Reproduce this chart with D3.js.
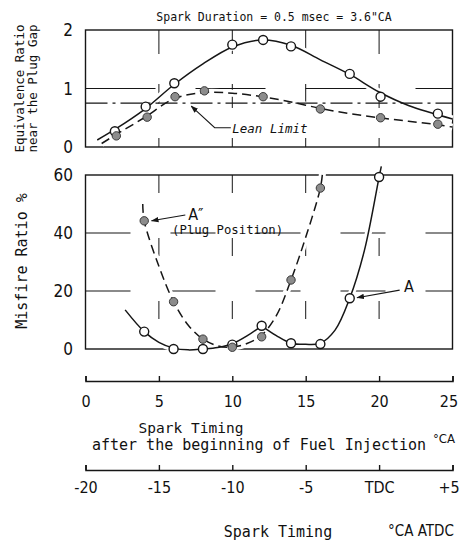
<!DOCTYPE html>
<html>
<head>
<meta charset="utf-8">
<script src="https://cdn.jsdelivr.net/npm/d3@7"></script>
<style>
body { margin: 0; background: #fff; }
svg { display: block; }
.mono { font-family: 'DejaVu Sans Mono', monospace; fill: #111; }
.narrow { font-family: 'Liberation Sans Narrow', 'DejaVu Sans Condensed', 'Liberation Sans', sans-serif; fill: #111; }
</style>
</head>
<body>
<script>
// tick values
const timingTicks = [0, 5, 10, 15, 20, 25];
const atdcTicks = [-20, -15, -10, -5, 0, 5];
const eqTicks = [0, 1, 2];
const misTicks = [0, 20, 40, 60];

// equivalence ratio near the plug gap (open = measured points, filled = lean limit data)
const eqOpen = [[2, 0.27], [4.1, 0.69], [6.05, 1.09], [10, 1.75], [12.1, 1.83], [14, 1.72], [18, 1.25], [20.1, 0.86], [24, 0.57]];
const eqFilled = [[2.1, 0.19], [4.2, 0.51], [6.1, 0.86], [8.1, 0.96], [12.1, 0.86], [16, 0.65], [20.1, 0.5], [24, 0.39]];
const eqOpenFit = [[0.8, 0.12], [2, 0.3], [4, 0.64], [6, 1.06], [8, 1.42], [10, 1.71], [12, 1.83], [14, 1.74], [16, 1.49], [18, 1.24], [20, 0.94], [22, 0.71], [25, 0.48]];
const eqFilledFit = [[1.1, 0.06], [2, 0.2], [4, 0.5], [6, 0.82], [8, 0.93], [10, 0.92], [12, 0.86], [14, 0.77], [16, 0.66], [18, 0.57], [20, 0.5], [22, 0.44], [24, 0.38], [25, 0.34]];
const leanLimit = 0.75;

// misfire ratio, A (open, solid) and A" (filled, dashed)
const misOpen = [[4, 6], [6, 0], [8, 0], [10, 1.5], [12, 8], [14, 2], [16, 1.7], [18, 17.5], [20, 59.3]];
const misFilled = [[4, 44.2], [6, 16.3], [8, 3.4], [10, 0.6], [12, 4.2], [14, 23.8], [16, 55.5]];
const misOpenFitA = [[2.7, 13.5], [4, 6], [5, 2.3], [6, 0.3], [7, -0.3], [8, 0], [9, 0.5], [10, 1.8], [11, 4.5], [12, 8]];
const misOpenFitB = [[12, 8], [13, 4.6], [14, 2], [15, 1.6], [16, 2], [17, 6.5], [18, 17.5], [19, 34], [20, 59.3], [20.15, 63]];
const misFilledFit = [[3.9, 50], [4, 44.2], [5, 28.5], [6, 16.3], [7, 8.2], [8, 3.4], [9, 1.1], [10, 0.6], [11, 1.9], [12, 4.8], [13, 11.5], [14, 23.8], [15, 38.5], [16, 55.5], [16.15, 61]];

const W = 462, H = 542;
const ink = "#161616";

const svg = d3.select("body").append("svg")
    .attr("width", W)
    .attr("height", H);

// scales
const x = d3.scaleLinear().domain([0, 25]).range([85.5, 452.5]);
const xAtdc = d3.scaleLinear().domain([-20, 5]).range([85.5, 452.5]);
const yTop = d3.scaleLinear().domain([0, 2]).range([147, 30]);
const yBot = d3.scaleLinear().domain([0, 60]).range([349, 175]);

// arrow head
svg.append("defs").append("marker")
    .attr("id", "arrow")
    .attr("viewBox", "0 0 10 10")
    .attr("refX", 9).attr("refY", 5)
    .attr("markerWidth", 7).attr("markerHeight", 7)
    .attr("orient", "auto")
    .append("path")
    .attr("d", "M0,1.5L10,5L0,8.5Z")
    .attr("fill", ink);

// broken grid lines
function grid(g, yScale, yVals, dash) {
    g.selectAll(".vg").data([5, 10, 15, 20]).enter().append("line")
        .attr("x1", d => x(d)).attr("x2", d => x(d))
        .attr("y1", yScale.range()[1]).attr("y2", yScale.range()[0])
        .attr("stroke", ink).attr("stroke-width", 1)
        .attr("stroke-dasharray", dash[0]);
    g.selectAll(".hg").data(yVals).enter().append("line")
        .attr("x1", x(0)).attr("x2", x(25))
        .attr("y1", d => yScale(d)).attr("y2", d => yScale(d))
        .attr("stroke", ink).attr("stroke-width", 1.1)
        .attr("stroke-dasharray", dash[1]);
}
grid(svg.append("g"), yTop, [1], ["24,30", "70,40"]);
grid(svg.append("g"), yBot, [20, 40], ["18,45", "45,40"]);

// frames
[yTop, yBot].forEach(ys => {
    svg.append("rect")
        .attr("x", x(0)).attr("y", ys.range()[1])
        .attr("width", x(25) - x(0)).attr("height", ys.range()[0] - ys.range()[1])
        .attr("fill", "none").attr("stroke", ink).attr("stroke-width", 1.4);
});

const lineTop = d3.line().x(d => x(d[0])).y(d => yTop(d[1])).curve(d3.curveCatmullRom.alpha(0.5));
const lineBot = d3.line().x(d => x(d[0])).y(d => yBot(d[1])).curve(d3.curveCatmullRom.alpha(0.5));

const curves = [
    { gen: lineTop, data: eqOpenFit, dash: null },
    { gen: lineTop, data: eqFilledFit, dash: "9,5" },
    { gen: lineBot, data: misOpenFitA, dash: null },
    { gen: lineBot, data: misOpenFitB, dash: null },
    { gen: lineBot, data: misFilledFit, dash: "9,5" }
];

// white halos so the grid breaks around the curves
curves.forEach(c => {
    svg.append("path").attr("d", c.gen(c.data))
        .attr("fill", "none").attr("stroke", "#fff").attr("stroke-width", 7);
});

// lean limit (dash-dot)
svg.append("line")
    .attr("x1", x(0)).attr("x2", x(25))
    .attr("y1", yTop(leanLimit)).attr("y2", yTop(leanLimit))
    .attr("stroke", ink).attr("stroke-width", 1.2)
    .attr("stroke-dasharray", "22,5,3,5");

curves.forEach(c => {
    svg.append("path").attr("d", c.gen(c.data))
        .attr("fill", "none").attr("stroke", ink).attr("stroke-width", 1.5)
        .attr("stroke-dasharray", c.dash);
});

// markers
function dots(data, yScale, filled) {
    svg.append("g").selectAll("circle").data(data).enter().append("circle")
        .attr("cx", d => x(d[0])).attr("cy", d => yScale(d[1]))
        .attr("r", filled ? 4.2 : 4.5)
        .attr("fill", filled ? "#8c8c8c" : "#fff")
        .attr("stroke", filled ? "#3a3a3a" : ink)
        .attr("stroke-width", filled ? 1 : 1.4);
}
dots(eqOpen, yTop, false);
dots(eqFilled, yTop, true);
dots(misOpen, yBot, false);
dots(misFilled, yBot, true);

// y tick labels
svg.append("g").selectAll("text").data(eqTicks).enter().append("text")
    .attr("class", "narrow")
    .attr("x", 73).attr("y", d => yTop(d)).attr("dy", "0.36em")
    .attr("text-anchor", "end").style("font-size", "17px")
    .text(d => d);
svg.append("g").selectAll("text").data(misTicks).enter().append("text")
    .attr("class", "narrow")
    .attr("x", 73).attr("y", d => yBot(d)).attr("dy", "0.36em")
    .attr("text-anchor", "end").style("font-size", "17px")
    .text(d => d);

// y titles
svg.append("text").attr("class", "mono")
    .attr("transform", `translate(24,${yTop(1)}) rotate(-90)`)
    .attr("text-anchor", "middle").style("font-size", "12.5px")
    .text("Equivalence Ratio");
svg.append("text").attr("class", "mono")
    .attr("transform", `translate(37,${yTop(1)}) rotate(-90)`)
    .attr("text-anchor", "middle").style("font-size", "12.5px")
    .text("near the Plug Gap");
svg.append("text").attr("class", "mono")
    .attr("transform", `translate(27,${yBot(30) - 1}) rotate(-90)`)
    .attr("text-anchor", "middle").style("font-size", "15px")
    .text("Misfire Ratio  %");

// title
svg.append("text").attr("class", "mono")
    .attr("x", 274).attr("y", 21)
    .attr("text-anchor", "middle").style("font-size", "11.5px")
    .text("Spark Duration = 0.5 msec = 3.6\"CA");

// annotations
const ann = svg.append("g");
ann.append("path")
    .attr("d", `M${x(9.9)},${yTop(0.33)}H${x(8.8)}L${x(7.2)},${yTop(0.7)}`)
    .attr("fill", "none").attr("stroke", ink).attr("stroke-width", 1.1)
    .attr("marker-end", "url(#arrow)");
ann.append("text").attr("class", "mono")
    .attr("x", x(10.0)).attr("y", yTop(0.24))
    .style("font-size", "12.5px").style("font-style", "italic")
    .text("Lean Limit");

ann.append("line")
    .attr("x1", x(6.8)).attr("y1", yBot(46.2))
    .attr("x2", x(4.5)).attr("y2", yBot(44.2))
    .attr("stroke", ink).attr("stroke-width", 1.1)
    .attr("marker-end", "url(#arrow)");
ann.append("text").attr("class", "narrow")
    .attr("x", x(7.0)).attr("y", yBot(44.5))
    .style("font-size", "16px")
    .text("A\u2033");
ann.append("text").attr("class", "mono")
    .attr("x", x(5.9)).attr("y", yBot(39.5))
    .style("font-size", "12.3px")
    .text("(Plug Position)");

ann.append("line")
    .attr("x1", x(21.4)).attr("y1", yBot(20.3))
    .attr("x2", x(18.5)).attr("y2", yBot(17.7))
    .attr("stroke", ink).attr("stroke-width", 1.1)
    .attr("marker-end", "url(#arrow)");
ann.append("text").attr("class", "narrow")
    .attr("x", x(21.7)).attr("y", yBot(19.5))
    .style("font-size", "16px")
    .text("A");

// bottom axes
function axisStyle(g) {
    g.select(".domain").attr("stroke", ink).attr("stroke-width", 1.6);
    g.selectAll(".tick line").attr("stroke", ink).attr("stroke-width", 1.4);
    g.selectAll(".tick text").attr("class", "narrow").attr("fill", ink)
        .style("font-size", "16px");
    // keep the last label inside the picture
    g.selectAll(".tick:last-of-type text").attr("dx", "-0.25em");
}
svg.append("g")
    .attr("transform", "translate(0,381)")
    .call(d3.axisBottom(x).tickValues(timingTicks).tickSize(-5).tickPadding(15))
    .call(axisStyle);
svg.append("g")
    .attr("transform", "translate(0,470)")
    .call(d3.axisBottom(xAtdc).tickValues(atdcTicks).tickSize(-5).tickPadding(12)
        .tickFormat(d => d === 0 ? "TDC" : d > 0 ? "+" + d : d))
    .call(axisStyle);
svg.selectAll(".tick text").attr("font-family", null).attr("font-size", null);

// axis titles
svg.append("text").attr("class", "mono")
    .attr("x", 191).attr("y", 433).attr("text-anchor", "middle")
    .style("font-size", "14.5px").text("Spark Timing");
svg.append("text").attr("class", "mono")
    .attr("x", 259).attr("y", 450).attr("text-anchor", "middle")
    .style("font-size", "15px").text("after the beginning of Fuel Injection");
svg.append("text").attr("class", "narrow")
    .attr("x", 433).attr("y", 443)
    .style("font-size", "13px").text("°CA");
svg.append("text").attr("class", "mono")
    .attr("x", 278).attr("y", 537).attr("text-anchor", "middle")
    .style("font-size", "15px").text("Spark Timing");
svg.append("text").attr("class", "narrow")
    .attr("x", 388).attr("y", 536)
    .style("font-size", "15px").text("°CA ATDC");
</script>
</body>
</html>
